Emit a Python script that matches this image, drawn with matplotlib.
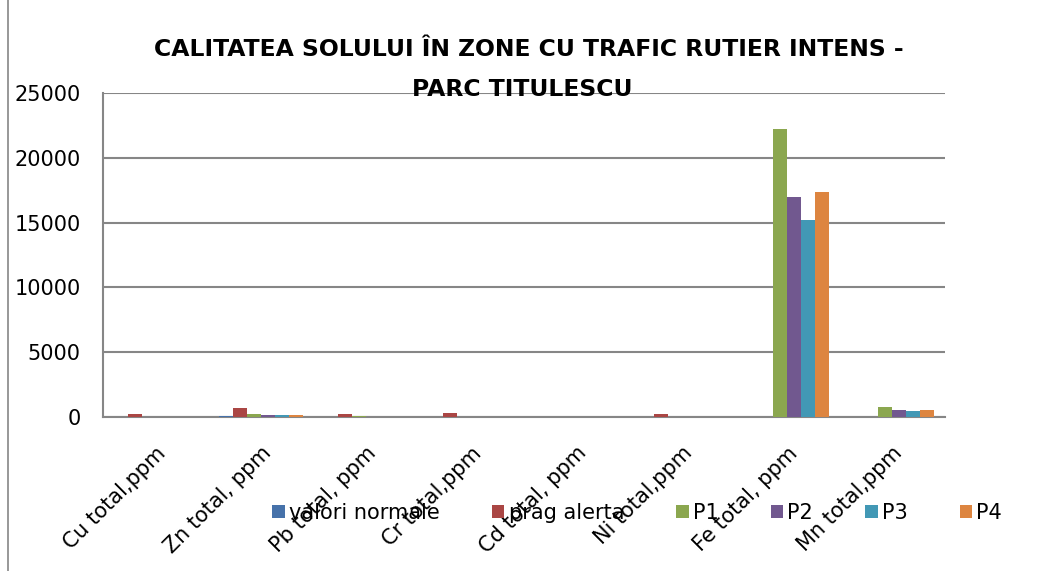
import numpy as np
import matplotlib
matplotlib.use('Agg')
import matplotlib.pyplot as plt

plt.rcParams['font.family'] = ['DejaVu Sans']

# ── Data ──────────────────────────────────────────────────────────────────────
categories = ['Cu total,ppm', 'Zn total, ppm', 'Pb total, ppm', 'Cr total,ppm',
              'Cd total, ppm', 'Ni total,ppm', 'Fe total, ppm', 'Mn total,ppm']
series_names = ['valori normale', 'prag alerta', 'P1', 'P2', 'P3', 'P4']

valori_normale = [20, 100, 20, 30, 1, 20, 0, 0]
prag_alerta = [250, 700, 250, 300, 5, 200, 0, 0]
p1 = [30, 250, 40, 30, 1, 25, 22250, 750]
p2 = [25, 150, 30, 25, 1, 20, 16950, 570]
p3 = [25, 150, 30, 25, 1, 20, 15230, 440]
p4 = [25, 150, 30, 25, 1, 20, 17340, 515]

colours = ['#4672AA', '#AA4644', '#8BA74F', '#71588F', '#4298B5', '#DD8540']
yticks = [0, 5000, 10000, 15000, 20000, 25000]

# ── Figure ────────────────────────────────────────────────────────────────────
fig = plt.figure(figsize=(10.38, 5.71), dpi=100)
ax = fig.add_axes([103 / 1038, 1 - 417 / 571, (945 - 103) / 1038, (417 - 93) / 571])

x = np.arange(len(categories))
w = 0.133
all_series = [valori_normale, prag_alerta, p1, p2, p3, p4]
for i, (vals, name, col) in enumerate(zip(all_series, series_names, colours)):
    ax.bar(x + (i - 2.5) * w, vals, width=w, color=col, label=name, zorder=3)

ax.set_xlim(-0.5, len(categories) - 0.5)
ax.set_ylim(0, 25000)
ax.set_yticks(yticks)
ax.set_yticklabels([str(t) for t in yticks], fontsize=15)
ax.yaxis.grid(True, color='#868686', linewidth=1.5, zorder=0)
ax.tick_params(axis='y', length=0, pad=16)
ax.tick_params(axis='x', length=0)

ax.set_xticks(x)
ax.set_xticklabels(categories, rotation=45, ha='right', va='top',
                   rotation_mode='anchor', fontsize=15)
for lbl in ax.get_xticklabels():
    lbl.set_y(-0.065)

for side in ['top', 'right']:
    ax.spines[side].set_visible(False)
for side in ['left', 'bottom']:
    ax.spines[side].set_color('#868686')
    ax.spines[side].set_linewidth(1.5)

fig.text(0.509, 1 - 50 / 571, 'CALITATEA SOLULUI ÎN ZONE CU TRAFIC RUTIER INTENS -',
         fontsize=16.9, fontweight='bold', ha='center', va='center')
fig.text(0.503, 1 - 89 / 571, 'PARC TITULESCU',
         fontsize=16.9, fontweight='bold', ha='center', va='center', zorder=5)

fig.legend(loc='center', bbox_to_anchor=(0.614, 1 - 513 / 571), ncol=6, frameon=False,
           fontsize=15, handlelength=0.6, handleheight=0.6, handletextpad=0.2,
           columnspacing=2.5)

# outer frame line on the left
fig.add_artist(plt.Line2D([8 / 1038, 8 / 1038], [0, 1], color='#868686', linewidth=1.2))

plt.savefig('out.png', dpi=100)
plt.close()
